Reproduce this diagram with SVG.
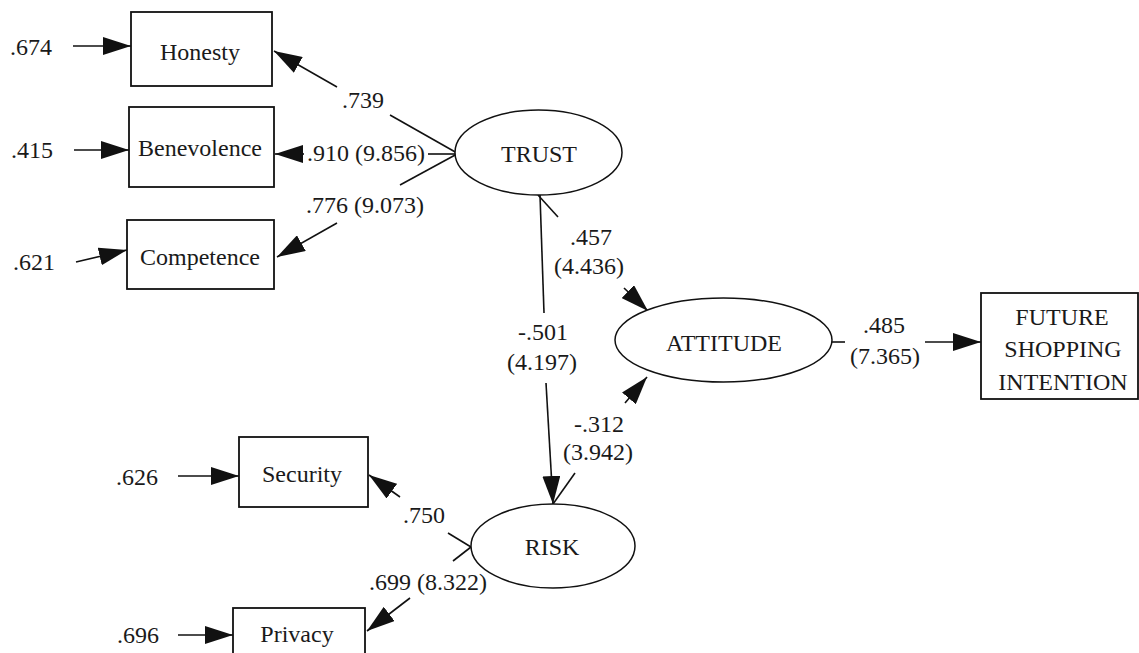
<svg xmlns="http://www.w3.org/2000/svg" width="1139" height="653" viewBox="0 0 1139 653">
<style>
text{font-family:"Liberation Serif","Times New Roman",serif;font-size:24px;fill:#1a1a1a;text-anchor:middle}
.box{fill:#fff;stroke:#111;stroke-width:1.8}
.ell{fill:#fff;stroke:#111;stroke-width:1.5}
.c line{stroke:#111;stroke-width:1.6}
.a{marker-end:url(#ah)}
</style>
<defs>
<marker id="ah" viewBox="0 0 28 18" refX="28" refY="9" markerWidth="28" markerHeight="18" markerUnits="userSpaceOnUse" orient="auto">
<path d="M0,0 L28,9 L0,18 z" fill="#111"/>
</marker>
</defs>
<rect width="1139" height="653" fill="#fff"/>
<g class="c" id="connectors">
<line class="a" x1="73" y1="46" x2="131" y2="46"/>
<line class="a" x1="74" y1="150" x2="129" y2="150"/>
<line class="a" x1="76" y1="262" x2="127" y2="250"/>
<line x1="457" y1="153" x2="390" y2="115"/>
<line class="a" x1="337" y1="87" x2="274" y2="51"/>
<line x1="457" y1="154" x2="428" y2="154"/>
<line class="a" x1="304" y1="154" x2="275" y2="154"/>
<line x1="457" y1="154" x2="400" y2="185"/>
<line class="a" x1="337" y1="223" x2="277" y2="257"/>
<line x1="538" y1="195" x2="558" y2="217"/>
<line class="a" x1="624" y1="288" x2="648" y2="311"/>
<line x1="540" y1="195" x2="544" y2="313"/>
<line class="a" x1="546" y1="383" x2="553" y2="504"/>
<line x1="553" y1="504" x2="575" y2="473"/>
<line class="a" x1="625" y1="403" x2="647" y2="377"/>
<line x1="832" y1="342" x2="845" y2="342"/>
<line class="a" x1="925" y1="342" x2="981" y2="342"/>
<line x1="471" y1="547" x2="448" y2="533"/>
<line class="a" x1="400" y1="497" x2="369" y2="475"/>
<line x1="471" y1="547" x2="453" y2="561"/>
<line class="a" x1="410" y1="598" x2="367" y2="631"/>
<line class="a" x1="178" y1="476" x2="239" y2="476"/>
<line class="a" x1="178" y1="635" x2="233" y2="635"/>
</g>
<g id="honesty"><rect class="box" x="131" y="12" width="141" height="74"/><text x="200" y="60">Honesty</text></g>
<g id="benevolence"><rect class="box" x="129" y="107" width="145" height="80"/><text x="200" y="156">Benevolence</text></g>
<g id="competence"><rect class="box" x="127" y="220" width="147" height="69"/><text x="200" y="265">Competence</text></g>
<g id="trust"><ellipse class="ell" cx="538.5" cy="152.5" rx="83.5" ry="42.5"/><text x="539" y="162">TRUST</text></g>
<g id="attitude"><ellipse class="ell" cx="723.5" cy="340" rx="108.5" ry="42"/><text x="724" y="351">ATTITUDE</text></g>
<g id="risk"><ellipse class="ell" cx="553" cy="546" rx="82" ry="42"/><text x="552" y="555">RISK</text></g>
<g id="future"><rect class="box" x="981" y="293" width="157" height="106"/><text x="1062" y="325">FUTURE</text><text x="1063" y="357">SHOPPING</text><text x="1063" y="390">INTENTION</text></g>
<g id="security"><rect class="box" x="239" y="437" width="129" height="70"/><text x="302" y="482">Security</text></g>
<g id="privacy"><rect class="box" x="233" y="608" width="132" height="60"/><text x="297" y="642">Privacy</text></g>
<g id="labels">
<text x="31" y="55">.674</text>
<text x="32" y="158">.415</text>
<text x="34" y="270">.621</text>
<text x="137" y="485">.626</text>
<text x="138" y="643">.696</text>
<text x="363" y="108">.739</text>
<text x="366" y="161">.910 (9.856)</text>
<text x="365" y="213">.776 (9.073)</text>
<text x="591" y="245">.457</text>
<text x="589" y="274">(4.436)</text>
<text x="543" y="340">-.501</text>
<text x="542" y="370">(4.197)</text>
<text x="599" y="432">-.312</text>
<text x="598" y="460">(3.942)</text>
<text x="884" y="333">.485</text>
<text x="885" y="364">(7.365)</text>
<text x="424" y="523">.750</text>
<text x="428" y="590">.699 (8.322)</text>
</g>
</svg>
